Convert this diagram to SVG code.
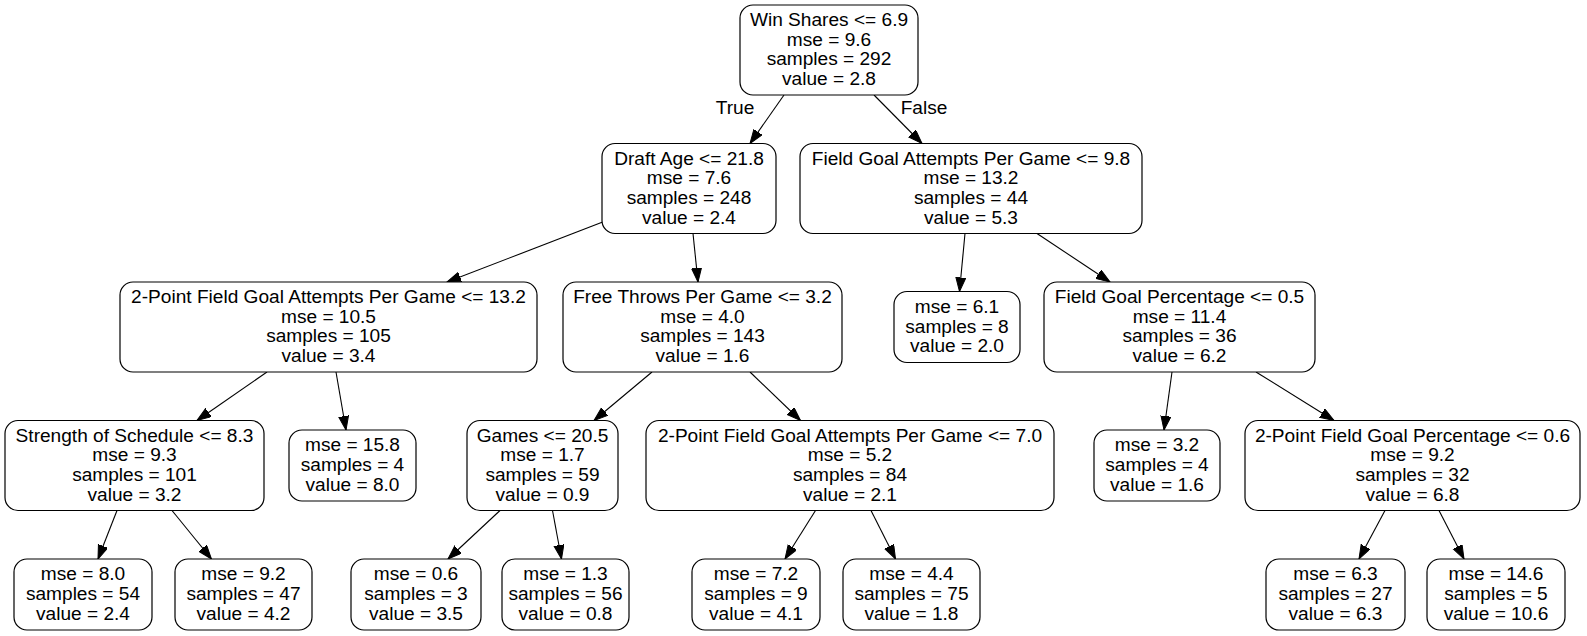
<svg xmlns="http://www.w3.org/2000/svg" width="1587" height="636" viewBox="0 0 1587 636">
<style>
.n rect{fill:#fff;stroke:#000;stroke-width:1.2}
text{font-family:"Liberation Sans",Arial,sans-serif;font-size:19.1px;fill:#000;text-anchor:middle}
.e line{stroke:#000;stroke-width:1.1;marker-end:url(#ah)}
</style>
<defs>
<marker id="ah" markerUnits="userSpaceOnUse" markerWidth="15" markerHeight="11" refX="14" refY="5" orient="auto">
<path d="M0,0 L14,5 L0,10 z" fill="#000" stroke="#000" stroke-width="1"/>
</marker>
</defs>
<rect width="1587" height="636" fill="#fff"/>
<g id="edges" class="e">
<line x1="784" y1="95" x2="750" y2="143.5"/>
<line x1="874" y1="95" x2="922" y2="143.5"/>
<line x1="604" y1="221.6" x2="447" y2="282"/>
<line x1="693" y1="233.5" x2="698" y2="282"/>
<line x1="965" y1="233.5" x2="959.5" y2="291.5"/>
<line x1="1037" y1="233.5" x2="1110" y2="282"/>
<line x1="267" y1="372" x2="197" y2="420.5"/>
<line x1="336" y1="372" x2="346" y2="430"/>
<line x1="652" y1="372" x2="594" y2="420.5"/>
<line x1="750" y1="372" x2="800.5" y2="420.5"/>
<line x1="1172" y1="372" x2="1164" y2="430"/>
<line x1="1256" y1="372" x2="1334" y2="420.5"/>
<line x1="117" y1="510.5" x2="98" y2="559"/>
<line x1="172" y1="510.5" x2="211.5" y2="559"/>
<line x1="500" y1="510.5" x2="448" y2="559"/>
<line x1="552.5" y1="510.5" x2="561.5" y2="559"/>
<line x1="815.5" y1="510.5" x2="785" y2="559"/>
<line x1="871" y1="510.5" x2="895.5" y2="559"/>
<line x1="1385" y1="510.5" x2="1359" y2="559"/>
<line x1="1439" y1="510.5" x2="1464" y2="559"/>
<text x="735" y="114">True</text>
<text x="924" y="114">False</text>
</g>
<g id="n0" class="n"><rect x="740" y="5" width="178" height="90" rx="13"/><text x="829" y="26">Win Shares &lt;= 6.9</text><text x="829" y="45.7">mse = 9.6</text><text x="829" y="65.4">samples = 292</text><text x="829" y="85.1">value = 2.8</text></g>
<g id="n1" class="n"><rect x="602" y="143.5" width="174" height="90" rx="13"/><text x="689" y="164.5">Draft Age &lt;= 21.8</text><text x="689" y="184.2">mse = 7.6</text><text x="689" y="203.9">samples = 248</text><text x="689" y="223.6">value = 2.4</text></g>
<g id="n2" class="n"><rect x="800" y="143.5" width="342" height="90" rx="13"/><text x="971" y="164.5">Field Goal Attempts Per Game &lt;= 9.8</text><text x="971" y="184.2">mse = 13.2</text><text x="971" y="203.9">samples = 44</text><text x="971" y="223.6">value = 5.3</text></g>
<g id="n3" class="n"><rect x="120" y="282" width="417" height="90" rx="13"/><text x="328.5" y="303">2-Point Field Goal Attempts Per Game &lt;= 13.2</text><text x="328.5" y="322.7">mse = 10.5</text><text x="328.5" y="342.4">samples = 105</text><text x="328.5" y="362.1">value = 3.4</text></g>
<g id="n4" class="n"><rect x="563" y="282" width="279" height="90" rx="13"/><text x="702.5" y="303">Free Throws Per Game &lt;= 3.2</text><text x="702.5" y="322.7">mse = 4.0</text><text x="702.5" y="342.4">samples = 143</text><text x="702.5" y="362.1">value = 1.6</text></g>
<g id="n5" class="n"><rect x="894" y="291.5" width="126" height="71" rx="13"/><text x="957" y="312.8">mse = 6.1</text><text x="957" y="332.5">samples = 8</text><text x="957" y="352.2">value = 2.0</text></g>
<g id="n6" class="n"><rect x="1044" y="282" width="271" height="90" rx="13"/><text x="1179.5" y="303">Field Goal Percentage &lt;= 0.5</text><text x="1179.5" y="322.7">mse = 11.4</text><text x="1179.5" y="342.4">samples = 36</text><text x="1179.5" y="362.1">value = 6.2</text></g>
<g id="n7" class="n"><rect x="5" y="420.5" width="259" height="90" rx="13"/><text x="134.5" y="441.5">Strength of Schedule &lt;= 8.3</text><text x="134.5" y="461.2">mse = 9.3</text><text x="134.5" y="480.9">samples = 101</text><text x="134.5" y="500.6">value = 3.2</text></g>
<g id="n8" class="n"><rect x="289" y="430" width="127" height="71" rx="13"/><text x="352.5" y="451.3">mse = 15.8</text><text x="352.5" y="471">samples = 4</text><text x="352.5" y="490.7">value = 8.0</text></g>
<g id="n9" class="n"><rect x="467" y="420.5" width="151" height="90" rx="13"/><text x="542.5" y="441.5">Games &lt;= 20.5</text><text x="542.5" y="461.2">mse = 1.7</text><text x="542.5" y="480.9">samples = 59</text><text x="542.5" y="500.6">value = 0.9</text></g>
<g id="n10" class="n"><rect x="646" y="420.5" width="408" height="90" rx="13"/><text x="850" y="441.5">2-Point Field Goal Attempts Per Game &lt;= 7.0</text><text x="850" y="461.2">mse = 5.2</text><text x="850" y="480.9">samples = 84</text><text x="850" y="500.6">value = 2.1</text></g>
<g id="n11" class="n"><rect x="1094" y="430" width="126" height="71" rx="13"/><text x="1157" y="451.3">mse = 3.2</text><text x="1157" y="471">samples = 4</text><text x="1157" y="490.7">value = 1.6</text></g>
<g id="n12" class="n"><rect x="1245" y="420.5" width="335" height="90" rx="13"/><text x="1412.5" y="441.5">2-Point Field Goal Percentage &lt;= 0.6</text><text x="1412.5" y="461.2">mse = 9.2</text><text x="1412.5" y="480.9">samples = 32</text><text x="1412.5" y="500.6">value = 6.8</text></g>
<g id="n13" class="n"><rect x="14" y="559" width="138" height="71" rx="13"/><text x="83" y="580.3">mse = 8.0</text><text x="83" y="600">samples = 54</text><text x="83" y="619.7">value = 2.4</text></g>
<g id="n14" class="n"><rect x="175" y="559" width="137" height="71" rx="13"/><text x="243.5" y="580.3">mse = 9.2</text><text x="243.5" y="600">samples = 47</text><text x="243.5" y="619.7">value = 4.2</text></g>
<g id="n15" class="n"><rect x="351" y="559" width="130" height="71" rx="13"/><text x="416" y="580.3">mse = 0.6</text><text x="416" y="600">samples = 3</text><text x="416" y="619.7">value = 3.5</text></g>
<g id="n16" class="n"><rect x="502" y="559" width="127" height="71" rx="13"/><text x="565.5" y="580.3">mse = 1.3</text><text x="565.5" y="600">samples = 56</text><text x="565.5" y="619.7">value = 0.8</text></g>
<g id="n17" class="n"><rect x="692" y="559" width="128" height="71" rx="13"/><text x="756" y="580.3">mse = 7.2</text><text x="756" y="600">samples = 9</text><text x="756" y="619.7">value = 4.1</text></g>
<g id="n18" class="n"><rect x="843" y="559" width="137" height="71" rx="13"/><text x="911.5" y="580.3">mse = 4.4</text><text x="911.5" y="600">samples = 75</text><text x="911.5" y="619.7">value = 1.8</text></g>
<g id="n19" class="n"><rect x="1266" y="559" width="139" height="71" rx="13"/><text x="1335.5" y="580.3">mse = 6.3</text><text x="1335.5" y="600">samples = 27</text><text x="1335.5" y="619.7">value = 6.3</text></g>
<g id="n20" class="n"><rect x="1427" y="559" width="138" height="71" rx="13"/><text x="1496" y="580.3">mse = 14.6</text><text x="1496" y="600">samples = 5</text><text x="1496" y="619.7">value = 10.6</text></g>
</svg>
